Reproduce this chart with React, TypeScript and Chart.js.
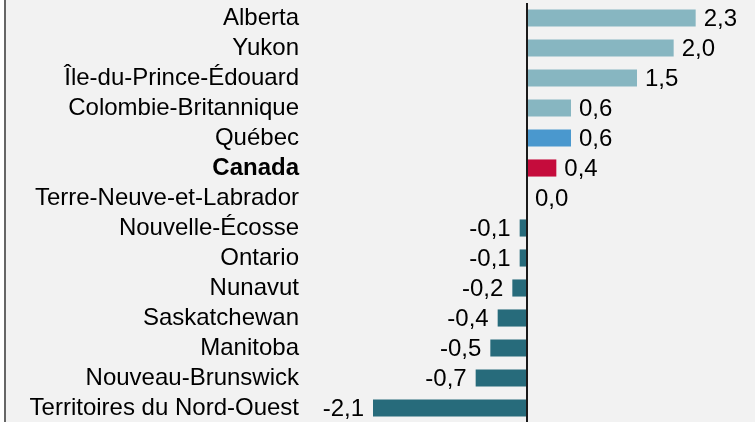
import React, { useEffect, useRef } from "react";
import { Chart, registerables } from "chart.js";

Chart.register(...registerables);

const categories = [
  "Alberta",
  "Yukon",
  "Île-du-Prince-Édouard",
  "Colombie-Britannique",
  "Québec",
  "Canada",
  "Terre-Neuve-et-Labrador",
  "Nouvelle-Écosse",
  "Ontario",
  "Nunavut",
  "Saskatchewan",
  "Manitoba",
  "Nouveau-Brunswick",
  "Territoires du Nord-Ouest",
];
const values = [2.3, 2.0, 1.5, 0.6, 0.6, 0.4, 0.0, -0.1, -0.1, -0.2, -0.4, -0.5, -0.7, -2.1];
const highlightProvince = "Québec";
const highlightCountry = "Canada";

const COL_POS = "#87b6c1";
const COL_NEG = "#276b7b";
const COL_QC = "#4a98ce";
const COL_CA = "#c50c3c";
const FONT = "'Liberation Sans', Arial, sans-serif";

const fmt = (v: number) => v.toFixed(1).replace(".", ",");

const labelPlugin = {
  id: "valueLabels",
  afterDatasetsDraw(chart: any) {
    const { ctx } = chart;
    const meta = chart.getDatasetMeta(0);
    const xs = chart.scales.x;
    const zero = xs.getPixelForValue(0);
    ctx.save();
    ctx.font = `24px ${FONT}`;
    ctx.fillStyle = "#000";
    ctx.textBaseline = "middle";
    meta.data.forEach((bar: any, i: number) => {
      const v = values[i];
      if (v < 0) {
        ctx.textAlign = "right";
        ctx.fillText(fmt(v), bar.x - 9, bar.y + 1);
      } else {
        ctx.textAlign = "left";
        ctx.fillText(fmt(v), Math.max(bar.x, zero) + 8, bar.y + 1);
      }
    });
    // zero axis line
    ctx.strokeStyle = "#1a1a1a";
    ctx.lineWidth = 2;
    ctx.beginPath();
    ctx.moveTo(zero, chart.chartArea.top);
    ctx.lineTo(zero, chart.chartArea.bottom + 5);
    ctx.stroke();
    ctx.restore();
  },
};

export default function App() {
  const ref = useRef<HTMLCanvasElement>(null);
  useEffect(() => {
    document.body.style.margin = "0";
    const colors = categories.map((c, i) =>
      c === highlightCountry ? COL_CA : c === highlightProvince ? COL_QC : values[i] < 0 ? COL_NEG : COL_POS
    );
    const chart = new Chart(ref.current!, {
      type: "bar",
      data: {
        labels: categories,
        datasets: [
          {
            data: values,
            backgroundColor: colors,
            borderWidth: 0,
            barPercentage: 0.57,
            categoryPercentage: 1,
          },
        ],
      },
      options: {
        indexAxis: "y",
        animation: false,
        responsive: false,
        maintainAspectRatio: false,
        layout: { padding: { top: 3, bottom: 1, right: 8, left: 0 } },
        plugins: { legend: { display: false }, tooltip: { enabled: false } },
        scales: {
          x: { display: false, min: -3, max: 3 },
          y: {
            grid: { display: false, drawTicks: false },
            border: { display: false },
            afterFit: (s: any) => {
              s.width = 307;
              s.paddingTop = 0;
              s.paddingBottom = 0;
            },
            ticks: {
              autoSkip: false,
              padding: 8,
              color: "#000",
              font: (ctx: any) => ({
                family: FONT,
                size: 24,
                weight: categories[ctx.index] === highlightCountry ? "bold" : "normal",
              }),
            },
          },
        },
      },
      plugins: [labelPlugin],
    });
    return () => chart.destroy();
  }, []);
  return (
    <div style={{ position: "fixed", left: 0, top: 0, width: 755, height: 422, overflow: "hidden", background: "#f2f2f2" }}>
      <div style={{ position: "absolute", left: 0, top: 0, width: 4, height: 422, background: "#fff" }} />
      <div style={{ position: "absolute", left: 4, top: 0, width: 2, height: 422, background: "#666" }} />
      <canvas ref={ref} width={755} height={424} style={{ position: "absolute", left: 0, top: 0, width: 755, height: 424 }} />
    </div>
  );
}
